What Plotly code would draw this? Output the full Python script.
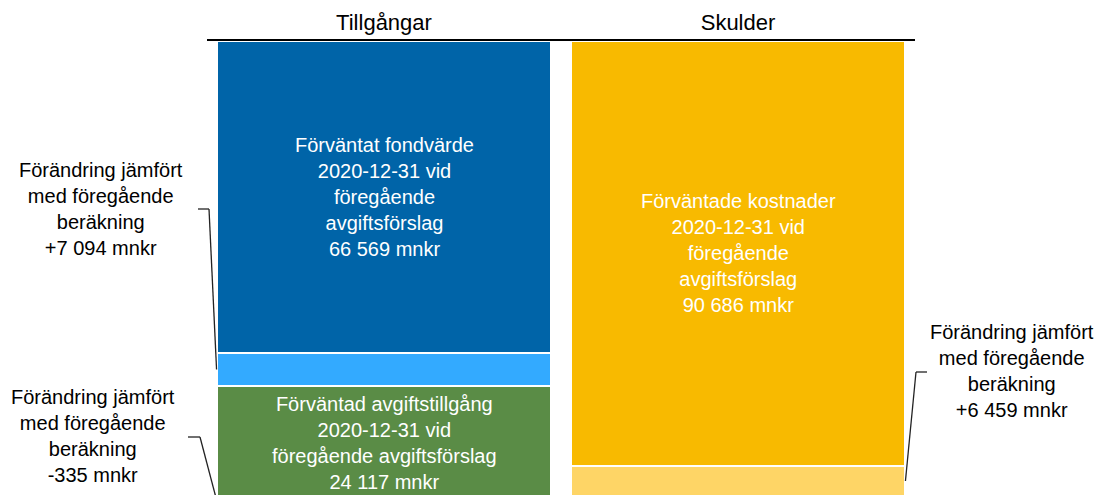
import plotly.graph_objects as go

categories = ["Tillgångar", "Skulder"]

asset_names = ["Förväntat fondvärde", "Förändring fondvärde", "Förväntad avgiftstillgång", "Förändring avgiftstillgång"]
asset_values = [66569, 7094, 24117, 335]
asset_colors = ["#0064A8", "#33AAFF", "#5A8C46", "#A9CB8C"]

liab_names = ["Förväntade kostnader", "Förändring kostnader"]
liab_values = [90686, 6459]
liab_colors = ["#F8BA00", "#FED566"]

change_labels = ["+7 094", "-335", "+6 459"]

YMAX = 96900
OFF = 8  # page body margin shifts the figure
W, H = 1104, 495 - OFF
L, R, T, B = 207 - OFF, 189 + OFF, 41 - OFF, 0
BAR_W = 0.946
FONT = "Liberation Sans, Arial, sans-serif"

PW = 1104 - 207 - 189
PH = 495 - 41


def fmt(v):
    return f"{v:,}".replace(",", " ")


def px_x(p):
    return (p - 207) / PW


def px_y(p):
    return 1 - (p - 41) / PH


def val_y(v):
    # reversed axis: 0 at top
    return 1 - v / YMAX


def edge_x(cat, side):
    return (cat + side * BAR_W / 2 + 0.5) / 2


fig = go.Figure()

for n, v, c in zip(asset_names, asset_values, asset_colors):
    fig.add_trace(go.Bar(x=[0], y=[v], name=n, marker=dict(color=c, line=dict(color="white", width=2)),
                         width=BAR_W, hoverinfo="skip"))
for n, v, c in zip(liab_names, liab_values, liab_colors):
    fig.add_trace(go.Bar(x=[1], y=[v], name=n, marker=dict(color=c, line=dict(color="white", width=2)),
                         width=BAR_W, hoverinfo="skip"))

# labels inside the big blocks
inside = [
    (0, 0, asset_values[0], "Förväntat fondvärde<br>2020-12-31 vid<br>föregående<br>avgiftsförslag<br>%s mnkr" % fmt(asset_values[0])),
    (0, sum(asset_values[:2]), asset_values[2], "Förväntad avgiftstillgång<br>2020-12-31 vid<br>föregående avgiftsförslag<br>%s mnkr" % fmt(asset_values[2])),
    (1, 0, liab_values[0], "Förväntade kostnader<br>2020-12-31 vid<br>föregående<br>avgiftsförslag<br>%s mnkr" % fmt(liab_values[0])),
]
for cat, base, v, txt in inside:
    fig.add_annotation(x=cat, y=base + v / 2, xref="x", yref="y", text=txt, showarrow=False,
                       xanchor="center", yanchor="middle",
                       font=dict(family=FONT, size=20, color="white"), align="center")

# change annotations outside the bars
ann_txt = "Förändring jämfört<br>med föregående<br>beräkning<br>%s mnkr"
outside = [
    (100.5, 209.5, change_labels[0]),
    (92.5, 435.5, change_labels[1]),
    (1012, 370.5, change_labels[2]),
]
for x, y, lab in outside:
    fig.add_annotation(x=px_x(x), y=px_y(y), xref="paper", yref="paper", text=ann_txt % lab,
                       showarrow=False, xanchor="center", yanchor="middle",
                       font=dict(family=FONT, size=20, color="black"), align="center")

# leader lines: short horizontal stub, then down to the middle of the segment
leaders = [
    (198, 209, 209, edge_x(0, -1), asset_values[0] + asset_values[1] / 2),
    (188, 200, 437, edge_x(0, -1), sum(asset_values[:3]) + asset_values[3] / 2),
    (927, 916, 372, edge_x(1, 1), liab_values[0] + liab_values[1] / 2),
]
for xa, xb, yb, xe, ve in leaders:
    line = dict(color="#222222", width=1.3)
    fig.add_shape(type="line", xref="paper", yref="paper", x0=px_x(xa), y0=px_y(yb), x1=px_x(xb), y1=px_y(yb), line=line)
    fig.add_shape(type="line", xref="paper", yref="paper", x0=px_x(xb), y0=px_y(yb), x1=xe, y1=val_y(ve), line=line)

fig.update_layout(
    barmode="stack",
    width=W, height=H,
    margin=dict(l=L, r=R, t=T, b=B, autoexpand=False),
    plot_bgcolor="white", paper_bgcolor="white",
    showlegend=False,
    xaxis=dict(range=[-0.5, 1.5], tickvals=[0, 1], ticktext=categories, side="top",
               showline=True, linecolor="black", linewidth=2, showgrid=False, zeroline=False,
               ticks="", tickfont=dict(family=FONT, size=22, color="black")),
    yaxis=dict(range=[YMAX, 0], visible=False, showgrid=False, zeroline=False),
)

fig.write_html("out.html")
